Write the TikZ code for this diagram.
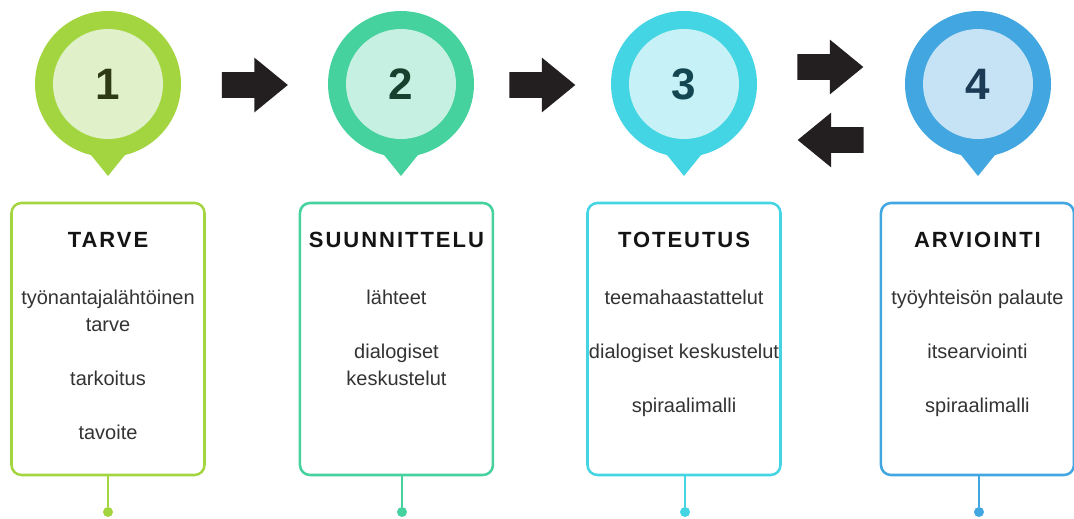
\documentclass[tikz,border=0pt]{standalone}
\usepackage{fontspec}
\setmainfont{Liberation Sans}
\usepackage{tikz}
\usetikzlibrary{shapes,arrows,positioning}
\definecolor{c1}{RGB}{163,213,65}
\definecolor{c1l}{RGB}{224,241,201}
\definecolor{c1d}{RGB}{45,58,18}
\definecolor{c2}{RGB}{70,210,159}
\definecolor{c2l}{RGB}{198,240,225}
\definecolor{c2d}{RGB}{23,64,47}
\definecolor{c3}{RGB}{67,213,227}
\definecolor{c3l}{RGB}{198,241,246}
\definecolor{c3d}{RGB}{19,70,80}
\definecolor{c4}{RGB}{66,166,224}
\definecolor{c4l}{RGB}{197,227,245}
\definecolor{c4d}{RGB}{27,58,84}
\definecolor{arrowC}{RGB}{35,31,32}
\tikzstyle{ring} = [circle, inner sep=0pt, minimum size=109.5pt]
\tikzstyle{core} = [circle, inner sep=0pt, minimum size=82.5pt, font=\fontsize{33}{33}\selectfont\bfseries]
\tikzstyle{card} = [rectangle, draw, line width=1.9pt, rounded corners=7.5pt, minimum width=144.75pt, minimum height=204pt, node distance=191.25pt]
\tikzstyle{heading} = [anchor=base, inner sep=0pt, text=black!92, font=\fontsize{16.5}{20}\selectfont\bfseries\addfontfeatures{LetterSpace=9}]
\tikzstyle{items} = [anchor=north, inner sep=0pt, align=center, text=black!80, font=\fontsize{15}{20.25}\selectfont]
\tikzstyle{bigarrow} = [single arrow, fill=arrowC, inner sep=9.4pt, minimum height=49.5pt, minimum width=40.5pt, single arrow head extend=10.9pt, single arrow tip angle=78.6]
\tikzstyle{dot} = [circle, inner sep=0pt, minimum size=7.5pt]
\tikzstyle{stem} = [draw, line width=1.5pt]

\begin{document}
\begin{tikzpicture}[x=0.75pt, y=-0.75pt]
    \useasboundingbox (0,0) rectangle (1074,518);

    % pins
    \node [ring, fill=c1] (p1) at (108,84) {};
    \node [ring, fill=c2] (p2) at (401,84) {};
    \node [ring, fill=c3] (p3) at (684,84) {};
    \node [ring, fill=c4] (p4) at (978,84) {};
    \fill [c1] (p1.center) ++(-21,66) -- ++(42,0) -- ++(-21,26) -- cycle;
    \fill [c2] (p2.center) ++(-21,66) -- ++(42,0) -- ++(-21,26) -- cycle;
    \fill [c3] (p3.center) ++(-21,66) -- ++(42,0) -- ++(-21,26) -- cycle;
    \fill [c4] (p4.center) ++(-21,66) -- ++(42,0) -- ++(-21,26) -- cycle;
    \node [core, fill=c1l, text=c1d] (n1) at (p1) {1};
    \node [core, fill=c2l, text=c2d] (n2) at (p2) {2};
    \node [core, fill=c3l, text=c3d] (n3) at (p3) {3};
    \node [core, fill=c4l, text=c4d] (n4) at (p4) {4};

    % arrows
    \node [bigarrow] (a12) at (247,85) {};
    \node [bigarrow] (a23) at (534.5,85) {};
    \node [bigarrow] (a34) at (822.5,67) {};
    \node [bigarrow, shape border rotate=180] (a43) at (838.5,140) {};

    % cards
    \node [card, draw=c1, below of=p1] (b1) {};
    \node [card, draw=c2, below of=p2, xshift=-3.4pt] (b2) {};
    \node [card, draw=c3, below of=p3] (b3) {};
    \node [card, draw=c4, below of=p4, xshift=-0.4pt] (b4) {};

    \node [heading] (t1) at ([yshift=-34.2pt]b1.north) {TARVE};
    \node [heading] (t2) at ([yshift=-34.2pt]b2.north) {SUUNNITTELU};
    \node [heading] (t3) at ([yshift=-34.2pt]b3.north) {TOTEUTUS};
    \node [heading] (t4) at ([yshift=-34.2pt]b4.north) {ARVIOINTI};

    \node [items] (i1) at ([yshift=-65.7pt]b1.north) {työnantajalähtöinen\\tarve\\[20.25pt]tarkoitus\\[20.25pt]tavoite};
    \node [items] (i2) at ([yshift=-65.7pt]b2.north) {lähteet\\[20.25pt]dialogiset\\keskustelut};
    \node [items] (i3) at ([yshift=-65.7pt]b3.north) {teemahaastattelut\\[20.25pt]dialogiset keskustelut\\[20.25pt]spiraalimalli};
    \node [items] (i4) at ([yshift=-65.7pt]b4.north) {työyhteisön palaute\\[20.25pt]itsearviointi\\[20.25pt]spiraalimalli};

    % stems
    \node [dot, fill=c1] (d1) at (108,512) {};
    \node [dot, fill=c2] (d2) at (402,512) {};
    \node [dot, fill=c3] (d3) at (685,512) {};
    \node [dot, fill=c4] (d4) at (979,512) {};
    \path [stem, c1] (d1 |- b1.south) -- (d1);
    \path [stem, c2] (d2 |- b2.south) -- (d2);
    \path [stem, c3] (d3 |- b3.south) -- (d3);
    \path [stem, c4] (d4 |- b4.south) -- (d4);
\end{tikzpicture}
\end{document}
